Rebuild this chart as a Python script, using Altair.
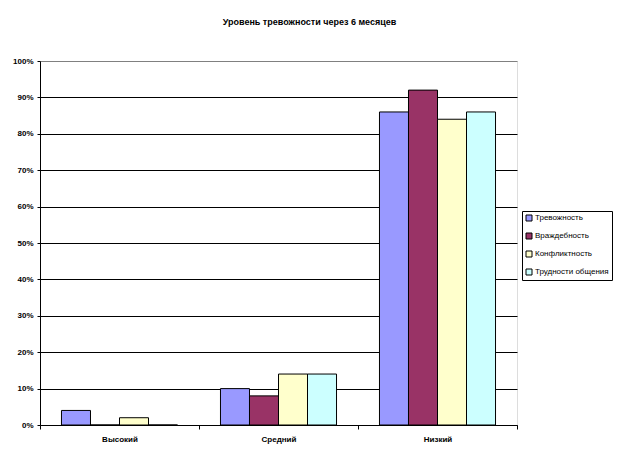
import altair as alt
import pandas as pd

categories = ["Высокий", "Средний", "Низкий"]
series = ["Тревожность", "Враждебность", "Конфликтность", "Трудности общения"]
trevozhnost = [4, 10, 86]
vrazhdebnost = [0, 8, 92]
konfliktnost = [2, 14, 84]
trudnosti = [0, 14, 86]
colors = ["#9999FF", "#993366", "#FFFFCC", "#CCFFFF"]
y_ticks = [0, 0.1, 0.2, 0.3, 0.4, 0.5, 0.6, 0.7, 0.8, 0.9, 1.0]

rows = []
for s, vals in zip(series, [trevozhnost, vrazhdebnost, konfliktnost, trudnosti]):
    for c, v in zip(categories, vals):
        rows.append({"cat": c, "series": s, "val": v / 100})
df = pd.DataFrame(rows)

FONT = "Liberation Sans"

chart = alt.Chart(df).mark_bar(stroke="black", strokeWidth=1).encode(
    x=alt.X("cat:N", sort=categories,
            scale=alt.Scale(paddingInner=0, paddingOuter=0),
            axis=alt.Axis(title=None, labelAngle=0, tickBand="extent",
                          domainColor="black", tickColor="black", tickSize=4,
                          labelFont=FONT, labelFontSize=8, labelFontWeight="bold",
                          labelColor="black", labelPadding=6, grid=False)),
    xOffset=alt.XOffset("series:N", sort=series,
                        scale=alt.Scale(paddingInner=0, paddingOuter=0.74)),
    y=alt.Y("val:Q", scale=alt.Scale(domain=[0, 1], nice=False),
            axis=alt.Axis(title=None, format=".0%", values=y_ticks,
                          domainColor="black", tickColor="black", tickSize=3,
                          labelFont=FONT, labelFontSize=8, labelFontWeight="bold",
                          labelColor="black", labelPadding=4,
                          grid=True,
                          gridColor={"condition": {"test": "datum.value >= 1", "value": "#808080"}, "value": "black"},
                          gridOpacity=1)),
    color=alt.Color("series:N", sort=series,
                    scale=alt.Scale(domain=series, range=colors),
                    legend=alt.Legend(title=None, orient="none", legendX=482, legendY=150,
                                      symbolType="square", symbolSize=36,
                                      symbolStrokeColor="black", symbolStrokeWidth=1,
                                      symbolOpacity=1, labelOffset=2,
                                      labelFont=FONT, labelFontSize=8, labelColor="black",
                                      rowPadding=8, padding=3,
                                      strokeColor="black", fillColor="white")),
).properties(
    width=477,
    height=364,
    autosize="none",
    padding={"left": 32, "top": 53, "right": 96, "bottom": 20},
    title=alt.Title("Уровень тревожности через 6 месяцев", font=FONT, fontSize=9,
                    fontWeight="bold", color="black", anchor="middle", dx=31, offset=30),
).configure_view(stroke="#808080", strokeWidth=1).configure(background="white")

chart.save("out.html", embed_options={"renderer": "svg", "actions": False})
